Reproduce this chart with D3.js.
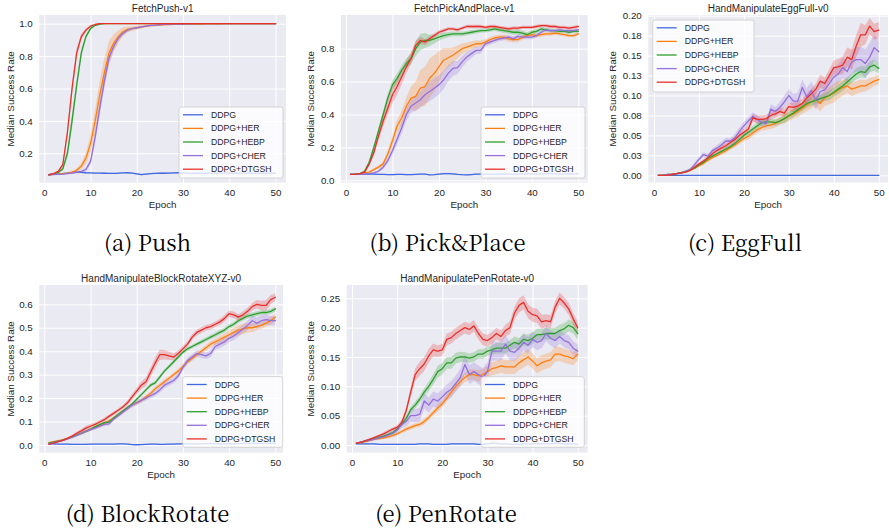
<!DOCTYPE html>
<html><head><meta charset="utf-8">
<script src="https://cdn.jsdelivr.net/npm/d3@7"></script>
<style>
body{margin:0;background:#fff}
svg{display:block}
text.sans{font-family:"Liberation Sans",Arial,sans-serif;fill:#262626}
text.cap{font-family:"Noto Serif CJK SC","Liberation Serif",serif;fill:#000}
</style>
</head><body>
<svg id="c" width="889" height="530"></svg>
<script>
// ---------------- DATA ----------------
const epochs = d3.range(1, 51);
const seriesNames = ["DDPG", "DDPG+HER", "DDPG+HEBP", "DDPG+CHER", "DDPG+DTGSH"];
const xTicks = [0, 10, 20, 30, 40, 50];

// (a) FetchPush-v1
const push_DDPG = [0.068,0.070,0.072,0.075,0.078,0.082,0.084,0.082,0.080,0.079,
0.078,0.078,0.077,0.076,0.076,0.077,0.079,0.080,0.077,0.073,
0.069,0.072,0.075,0.076,0.077,0.077,0.078,0.079,0.080,0.079,
0.077,0.076,0.077,0.078,0.077,0.076,0.077,0.078,0.078,0.077,
0.076,0.077,0.078,0.078,0.077,0.076,0.077,0.078,0.077,0.078];
const push_HER = [0.068,0.070,0.072,0.075,0.078,0.082,0.095,0.120,0.170,0.260,
0.400,0.560,0.700,0.820,0.880,0.920,0.950,0.965,0.970,0.975,
0.980,0.985,0.988,0.990,0.992,0.994,0.995,0.996,0.996,0.997,
0.997,0.998,0.998,0.998,0.999,0.999,0.999,0.999,1.000,1.000,
1.000,1.000,1.000,1.000,1.000,1.000,1.000,1.000,1.000,1.000];
const push_HEBP = [0.068,0.072,0.082,0.105,0.200,0.400,0.620,0.820,0.920,0.970,
0.990,0.998,1.000,1.000,1.000,1.000,1.000,1.000,1.000,1.000,
1.000,1.000,1.000,1.000,1.000,1.000,1.000,1.000,1.000,1.000,
1.000,1.000,1.000,1.000,1.000,1.000,1.000,1.000,1.000,1.000,
1.000,1.000,1.000,1.000,1.000,1.000,1.000,1.000,1.000,1.000];
const push_CHER = [0.068,0.069,0.070,0.072,0.075,0.078,0.082,0.088,0.100,0.150,
0.300,0.480,0.650,0.790,0.860,0.910,0.940,0.960,0.970,0.975,
0.980,0.985,0.990,0.990,0.995,0.996,0.997,0.998,0.998,0.998,
0.999,0.999,1.000,1.000,1.000,1.000,1.000,1.000,1.000,1.000,
1.000,1.000,1.000,1.000,1.000,1.000,1.000,1.000,1.000,1.000];
const push_DTGSH = [0.068,0.075,0.088,0.130,0.330,0.600,0.820,0.920,0.960,0.985,
0.995,1.000,1.000,1.000,1.000,1.000,1.000,1.000,1.000,1.000,
1.000,1.000,1.000,1.000,1.000,1.000,1.000,1.000,1.000,1.000,
1.000,1.000,1.000,1.000,1.000,1.000,1.000,1.000,1.000,1.000,
1.000,1.000,1.000,1.000,1.000,1.000,1.000,1.000,1.000,1.000];
const push_DDPG_sd = [0.003,0.003,0.004,0.004,0.004,0.005,0.005,0.005,0.004,0.004,
0.004,0.004,0.004,0.004,0.004,0.004,0.004,0.004,0.004,0.005,
0.005,0.004,0.004,0.004,0.004,0.004,0.004,0.004,0.004,0.004,
0.004,0.004,0.004,0.004,0.004,0.004,0.004,0.004,0.004,0.004,
0.004,0.004,0.004,0.004,0.004,0.004,0.004,0.004,0.004,0.004];
const push_HER_sd = [0.003,0.003,0.004,0.005,0.006,0.008,0.012,0.020,0.035,0.055,
0.075,0.090,0.090,0.075,0.055,0.040,0.028,0.020,0.015,0.012,
0.010,0.008,0.007,0.006,0.005,0.005,0.004,0.004,0.004,0.004,
0.003,0.003,0.003,0.003,0.003,0.003,0.003,0.003,0.003,0.003,
0.003,0.003,0.003,0.003,0.003,0.003,0.003,0.003,0.003,0.003];
const push_HEBP_sd = [0.003,0.004,0.006,0.012,0.030,0.045,0.040,0.028,0.016,0.010,
0.006,0.004,0.003,0.002,0.002,0.002,0.002,0.002,0.002,0.002,
0.002,0.002,0.002,0.002,0.002,0.002,0.002,0.002,0.002,0.002,
0.002,0.002,0.002,0.002,0.002,0.002,0.002,0.002,0.002,0.002,
0.002,0.002,0.002,0.002,0.002,0.002,0.002,0.002,0.002,0.002];
const push_CHER_sd = [0.003,0.003,0.004,0.004,0.005,0.006,0.007,0.008,0.012,0.020,
0.035,0.045,0.045,0.035,0.025,0.018,0.013,0.010,0.008,0.006,
0.005,0.005,0.004,0.004,0.004,0.003,0.003,0.003,0.003,0.003,
0.003,0.003,0.003,0.003,0.003,0.003,0.003,0.003,0.003,0.003,
0.003,0.003,0.003,0.003,0.003,0.003,0.003,0.003,0.003,0.003];
const push_DTGSH_sd = [0.003,0.004,0.006,0.012,0.030,0.035,0.030,0.020,0.012,0.008,
0.005,0.003,0.002,0.002,0.002,0.002,0.002,0.002,0.002,0.002,
0.002,0.002,0.002,0.002,0.002,0.002,0.002,0.002,0.002,0.002,
0.002,0.002,0.002,0.002,0.002,0.002,0.002,0.002,0.002,0.002,
0.002,0.002,0.002,0.002,0.002,0.002,0.002,0.002,0.002,0.002];

// (b) FetchPickAndPlace-v1
const pp_DDPG = [0.036,0.036,0.037,0.037,0.038,0.037,0.036,0.036,0.035,0.035,
0.036,0.036,0.035,0.034,0.036,0.038,0.037,0.033,0.035,0.038,
0.040,0.041,0.039,0.036,0.034,0.033,0.035,0.037,0.038,0.037,
0.036,0.037,0.038,0.039,0.038,0.037,0.038,0.039,0.040,0.039,
0.038,0.039,0.040,0.040,0.039,0.038,0.039,0.040,0.039,0.040];
const pp_HER = [0.036,0.037,0.040,0.045,0.050,0.065,0.080,0.100,0.160,0.240,
0.330,0.380,0.450,0.500,0.510,0.560,0.570,0.620,0.650,0.690,
0.730,0.745,0.760,0.780,0.800,0.810,0.820,0.830,0.830,0.840,
0.855,0.865,0.870,0.870,0.860,0.855,0.855,0.870,0.880,0.885,
0.880,0.885,0.890,0.890,0.895,0.890,0.885,0.880,0.880,0.890];
const pp_HEBP = [0.036,0.037,0.040,0.055,0.110,0.200,0.300,0.400,0.500,0.580,
0.620,0.670,0.710,0.740,0.800,0.840,0.850,0.850,0.860,0.870,
0.880,0.885,0.890,0.890,0.890,0.895,0.900,0.905,0.910,0.910,
0.915,0.920,0.915,0.910,0.905,0.900,0.900,0.895,0.885,0.900,
0.905,0.920,0.915,0.910,0.910,0.905,0.905,0.900,0.905,0.905];
const pp_CHER = [0.036,0.036,0.037,0.038,0.040,0.045,0.055,0.080,0.120,0.180,
0.250,0.320,0.400,0.450,0.470,0.490,0.520,0.540,0.560,0.580,
0.610,0.650,0.680,0.685,0.720,0.750,0.770,0.790,0.790,0.830,
0.840,0.850,0.860,0.865,0.870,0.860,0.875,0.870,0.870,0.870,
0.880,0.900,0.915,0.910,0.910,0.915,0.910,0.910,0.910,0.915];
const pp_DTGSH = [0.036,0.036,0.040,0.050,0.100,0.170,0.270,0.360,0.440,0.520,
0.570,0.630,0.690,0.740,0.820,0.850,0.840,0.860,0.880,0.900,
0.910,0.920,0.920,0.915,0.925,0.935,0.935,0.935,0.935,0.930,
0.935,0.935,0.930,0.925,0.920,0.925,0.925,0.930,0.930,0.930,
0.935,0.940,0.940,0.935,0.935,0.930,0.930,0.925,0.930,0.935];
const pp_DDPG_sd = [0.003,0.003,0.003,0.004,0.004,0.004,0.004,0.004,0.004,0.004,
0.004,0.004,0.004,0.004,0.004,0.004,0.004,0.004,0.004,0.004,
0.005,0.005,0.005,0.004,0.004,0.004,0.004,0.004,0.004,0.004,
0.004,0.004,0.004,0.004,0.004,0.004,0.004,0.004,0.004,0.004,
0.004,0.004,0.004,0.004,0.004,0.004,0.004,0.004,0.004,0.004];
const pp_HER_sd = [0.003,0.003,0.004,0.005,0.006,0.008,0.010,0.015,0.022,0.030,
0.038,0.045,0.055,0.070,0.090,0.110,0.120,0.120,0.110,0.095,
0.075,0.060,0.048,0.040,0.032,0.028,0.025,0.022,0.020,0.018,
0.016,0.015,0.015,0.016,0.018,0.018,0.016,0.014,0.013,0.012,
0.012,0.012,0.011,0.011,0.010,0.010,0.010,0.010,0.010,0.010];
const pp_HEBP_sd = [0.003,0.003,0.004,0.008,0.015,0.020,0.022,0.024,0.026,0.028,
0.030,0.030,0.030,0.035,0.045,0.050,0.045,0.035,0.028,0.022,
0.018,0.016,0.015,0.014,0.014,0.013,0.013,0.012,0.012,0.012,
0.012,0.012,0.013,0.014,0.015,0.015,0.015,0.015,0.015,0.014,
0.013,0.012,0.012,0.011,0.011,0.010,0.010,0.010,0.010,0.010];
const pp_CHER_sd = [0.003,0.003,0.003,0.004,0.005,0.006,0.008,0.012,0.018,0.024,
0.030,0.035,0.038,0.040,0.045,0.050,0.055,0.060,0.060,0.058,
0.055,0.050,0.045,0.040,0.035,0.030,0.026,0.022,0.020,0.018,
0.016,0.015,0.014,0.014,0.014,0.014,0.013,0.013,0.012,0.012,
0.012,0.011,0.011,0.010,0.010,0.010,0.010,0.010,0.010,0.010];
const pp_DTGSH_sd = [0.003,0.003,0.004,0.008,0.015,0.022,0.028,0.035,0.042,0.048,
0.050,0.045,0.038,0.032,0.028,0.022,0.018,0.015,0.013,0.012,
0.011,0.010,0.010,0.010,0.010,0.010,0.010,0.010,0.010,0.010,
0.010,0.010,0.010,0.012,0.012,0.012,0.011,0.010,0.010,0.010,
0.010,0.010,0.010,0.010,0.010,0.010,0.010,0.010,0.010,0.010];

// (c) HandManipulateEggFull-v0
const egg_DDPG = [0,0,0,0,0,0,0,0,0,0,
0,0,0,0,0,0,0,0,0,0,
0,0,0,0,0,0,0,0,0,0,
0,0,0,0,0,0,0,0,0,0,
0,0,0,0,0,0,0,0,0,0];
const egg_HER = [0.000,0.000,0.001,0.001,0.002,0.003,0.004,0.006,0.009,0.012,
0.015,0.019,0.022,0.025,0.028,0.031,0.035,0.038,0.042,0.046,
0.049,0.053,0.057,0.060,0.062,0.063,0.065,0.068,0.071,0.074,
0.077,0.080,0.084,0.088,0.092,0.095,0.090,0.097,0.100,0.103,
0.107,0.110,0.112,0.108,0.110,0.112,0.112,0.115,0.118,0.120];
const egg_HEBP = [0.000,0.000,0.001,0.001,0.002,0.003,0.005,0.007,0.009,0.013,
0.016,0.021,0.024,0.027,0.030,0.033,0.036,0.040,0.045,0.050,
0.054,0.058,0.062,0.066,0.067,0.067,0.066,0.068,0.071,0.075,
0.078,0.082,0.086,0.090,0.092,0.094,0.096,0.098,0.100,0.104,
0.108,0.112,0.117,0.122,0.127,0.130,0.129,0.136,0.138,0.134];
const egg_CHER = [0.000,0.000,0.001,0.001,0.002,0.003,0.005,0.007,0.013,0.020,
0.026,0.024,0.031,0.034,0.038,0.043,0.043,0.047,0.055,0.062,
0.068,0.074,0.070,0.066,0.065,0.083,0.080,0.085,0.092,0.100,
0.093,0.093,0.110,0.098,0.106,0.094,0.105,0.107,0.115,0.123,
0.127,0.135,0.130,0.142,0.145,0.145,0.140,0.148,0.160,0.155];
const egg_DTGSH = [0.000,0.000,0.000,0.001,0.002,0.003,0.004,0.006,0.010,0.014,
0.018,0.022,0.027,0.031,0.034,0.037,0.041,0.045,0.050,0.054,
0.058,0.072,0.070,0.070,0.071,0.075,0.077,0.080,0.078,0.086,
0.085,0.087,0.090,0.097,0.102,0.108,0.118,0.115,0.125,0.135,
0.136,0.138,0.148,0.145,0.162,0.176,0.176,0.187,0.180,0.182];
const egg_DDPG_sd = [0,0,0,0,0,0,0,0,0,0,
0,0,0,0,0,0,0,0,0,0,
0,0,0,0,0,0,0,0,0,0,
0,0,0,0,0,0,0,0,0,0,
0,0,0,0,0,0,0,0,0,0];
const egg_HER_sd = [0.000,0.000,0.000,0.001,0.001,0.001,0.001,0.001,0.002,0.002,
0.002,0.002,0.002,0.002,0.003,0.003,0.003,0.003,0.003,0.003,
0.004,0.004,0.004,0.004,0.005,0.005,0.005,0.005,0.006,0.006,
0.006,0.007,0.007,0.008,0.008,0.009,0.010,0.010,0.011,0.012,
0.011,0.010,0.009,0.009,0.008,0.008,0.007,0.007,0.006,0.006];
const egg_HEBP_sd = [0.000,0.000,0.000,0.001,0.001,0.001,0.001,0.001,0.001,0.002,
0.002,0.002,0.002,0.002,0.002,0.003,0.003,0.003,0.003,0.003,
0.003,0.004,0.004,0.004,0.004,0.004,0.004,0.004,0.005,0.005,
0.005,0.005,0.005,0.005,0.005,0.005,0.005,0.005,0.006,0.006,
0.006,0.006,0.006,0.006,0.007,0.007,0.007,0.007,0.007,0.006];
const egg_CHER_sd = [0.000,0.000,0.000,0.001,0.001,0.001,0.001,0.002,0.003,0.003,
0.003,0.003,0.003,0.004,0.004,0.004,0.004,0.005,0.005,0.005,
0.005,0.005,0.005,0.005,0.005,0.006,0.006,0.007,0.008,0.008,
0.009,0.010,0.010,0.011,0.012,0.012,0.012,0.012,0.012,0.012,
0.012,0.013,0.013,0.014,0.015,0.016,0.018,0.018,0.016,0.015];
const egg_DTGSH_sd = [0.000,0.000,0.000,0.001,0.001,0.001,0.001,0.001,0.002,0.002,
0.002,0.002,0.003,0.003,0.003,0.003,0.003,0.004,0.004,0.004,
0.004,0.005,0.005,0.005,0.005,0.005,0.005,0.005,0.005,0.005,
0.006,0.006,0.006,0.006,0.006,0.007,0.008,0.008,0.008,0.009,
0.010,0.011,0.012,0.013,0.014,0.015,0.012,0.010,0.010,0.010];

// (d) HandManipulateBlockRotateXYZ-v0
const br_DDPG = [0.005,0.005,0.004,0.004,0.004,0.003,0.003,0.003,0.003,0.004,
0.004,0.004,0.004,0.004,0.004,0.005,0.005,0.004,0.002,0.001,
0.002,0.003,0.004,0.004,0.003,0.003,0.004,0.004,0.005,0.005,
0.005,0.005,0.005,0.005,0.006,0.006,0.006,0.005,0.005,0.006,
0.006,0.006,0.007,0.007,0.007,0.007,0.007,0.007,0.008,0.008];
const br_HER = [0.010,0.014,0.018,0.022,0.028,0.035,0.043,0.050,0.058,0.066,
0.075,0.084,0.093,0.103,0.115,0.128,0.142,0.157,0.170,0.180,
0.190,0.205,0.220,0.240,0.255,0.270,0.285,0.300,0.315,0.335,
0.355,0.370,0.385,0.400,0.415,0.430,0.440,0.450,0.460,0.470,
0.480,0.490,0.495,0.500,0.500,0.505,0.510,0.520,0.530,0.545];
const br_HEBP = [0.008,0.012,0.016,0.021,0.027,0.034,0.042,0.050,0.058,0.067,
0.077,0.087,0.095,0.098,0.115,0.130,0.145,0.160,0.175,0.195,
0.215,0.235,0.255,0.265,0.290,0.315,0.335,0.355,0.375,0.395,
0.410,0.420,0.430,0.440,0.450,0.460,0.470,0.480,0.490,0.505,
0.515,0.530,0.540,0.550,0.555,0.560,0.565,0.565,0.570,0.580];
const br_CHER = [0.005,0.010,0.015,0.020,0.026,0.033,0.041,0.050,0.058,0.066,
0.072,0.080,0.088,0.090,0.110,0.125,0.140,0.155,0.170,0.180,
0.190,0.200,0.210,0.220,0.235,0.255,0.265,0.275,0.295,0.330,
0.360,0.375,0.390,0.385,0.380,0.390,0.420,0.430,0.440,0.455,
0.465,0.480,0.495,0.510,0.530,0.520,0.530,0.535,0.530,0.530];
const br_DTGSH = [0.003,0.008,0.014,0.020,0.028,0.038,0.050,0.060,0.072,0.080,
0.088,0.098,0.108,0.122,0.135,0.148,0.162,0.180,0.205,0.230,
0.255,0.270,0.310,0.350,0.385,0.385,0.380,0.375,0.390,0.410,
0.430,0.460,0.480,0.490,0.500,0.505,0.515,0.525,0.540,0.560,
0.555,0.545,0.555,0.570,0.590,0.600,0.595,0.595,0.620,0.630];
const br_DDPG_sd = [0.002,0.002,0.002,0.002,0.002,0.002,0.002,0.002,0.002,0.002,
0.002,0.002,0.002,0.002,0.002,0.002,0.002,0.002,0.002,0.002,
0.002,0.002,0.002,0.002,0.002,0.002,0.002,0.002,0.002,0.002,
0.002,0.002,0.002,0.002,0.002,0.002,0.002,0.002,0.002,0.002,
0.002,0.002,0.002,0.002,0.002,0.002,0.002,0.002,0.002,0.002];
const br_HER_sd = [0.004,0.004,0.005,0.005,0.005,0.005,0.005,0.006,0.006,0.006,
0.006,0.007,0.007,0.007,0.007,0.008,0.008,0.008,0.008,0.008,
0.009,0.009,0.009,0.010,0.010,0.010,0.010,0.010,0.011,0.011,
0.011,0.012,0.012,0.012,0.013,0.013,0.014,0.015,0.016,0.018,
0.020,0.022,0.022,0.020,0.018,0.016,0.015,0.015,0.015,0.015];
const br_HEBP_sd = [0.003,0.003,0.003,0.004,0.004,0.004,0.005,0.005,0.005,0.005,
0.005,0.005,0.005,0.006,0.006,0.006,0.006,0.006,0.006,0.007,
0.007,0.007,0.008,0.008,0.008,0.008,0.008,0.008,0.008,0.008,
0.008,0.008,0.008,0.009,0.009,0.009,0.010,0.010,0.010,0.010,
0.010,0.010,0.010,0.010,0.010,0.010,0.010,0.010,0.010,0.010];
const br_CHER_sd = [0.004,0.004,0.004,0.005,0.005,0.005,0.005,0.006,0.006,0.006,
0.007,0.007,0.008,0.008,0.008,0.008,0.008,0.009,0.009,0.010,
0.010,0.010,0.011,0.011,0.012,0.012,0.012,0.012,0.012,0.013,
0.013,0.013,0.014,0.014,0.014,0.015,0.015,0.016,0.016,0.017,
0.018,0.018,0.018,0.020,0.022,0.024,0.024,0.022,0.020,0.018];
const br_DTGSH_sd = [0.003,0.003,0.004,0.004,0.005,0.005,0.006,0.007,0.010,0.010,
0.009,0.008,0.008,0.008,0.008,0.008,0.009,0.010,0.012,0.014,
0.016,0.018,0.020,0.022,0.022,0.020,0.018,0.015,0.013,0.012,
0.012,0.012,0.012,0.012,0.012,0.012,0.012,0.013,0.014,0.014,
0.014,0.014,0.014,0.015,0.016,0.018,0.020,0.022,0.020,0.015];

// (e) HandManipulatePenRotate-v0
const pen_DDPG = [0.002,0.002,0.002,0.002,0.002,0.001,0.001,0.001,0.001,0.001,
0.001,0.001,0.001,0.001,0.002,0.002,0.002,0.001,0.001,0.001,
0.001,0.002,0.002,0.002,0.002,0.002,0.002,0.001,0.001,0.002,
0.003,0.003,0.002,0.002,0.001,0.001,0.001,0.002,0.002,0.002,
0.002,0.002,0.002,0.002,0.003,0.003,0.002,0.002,0.002,0.001];
const pen_HER = [0.003,0.004,0.006,0.008,0.010,0.011,0.012,0.014,0.016,0.019,
0.023,0.027,0.030,0.033,0.035,0.040,0.047,0.055,0.063,0.070,
0.080,0.090,0.100,0.108,0.115,0.120,0.120,0.118,0.120,0.125,
0.130,0.132,0.135,0.133,0.133,0.133,0.140,0.145,0.150,0.143,
0.135,0.140,0.143,0.145,0.155,0.155,0.152,0.150,0.147,0.155];
const pen_HEBP = [0.003,0.005,0.007,0.009,0.011,0.013,0.015,0.018,0.021,0.027,
0.035,0.045,0.060,0.068,0.078,0.090,0.100,0.112,0.125,0.130,
0.140,0.140,0.148,0.150,0.150,0.148,0.150,0.155,0.155,0.160,
0.162,0.165,0.165,0.165,0.170,0.175,0.172,0.180,0.178,0.182,
0.188,0.188,0.190,0.190,0.190,0.195,0.198,0.204,0.200,0.190];
const pen_CHER = [0.003,0.005,0.007,0.008,0.010,0.012,0.014,0.017,0.020,0.025,
0.035,0.040,0.050,0.050,0.052,0.075,0.068,0.078,0.075,0.082,
0.090,0.095,0.105,0.115,0.137,0.120,0.125,0.120,0.115,0.125,
0.160,0.160,0.160,0.172,0.160,0.158,0.165,0.175,0.170,0.180,
0.175,0.178,0.190,0.182,0.178,0.185,0.178,0.175,0.165,0.160];
const pen_DTGSH = [0.003,0.005,0.007,0.010,0.013,0.016,0.019,0.023,0.027,0.030,
0.038,0.058,0.090,0.120,0.130,0.138,0.152,0.162,0.160,0.162,
0.180,0.183,0.190,0.195,0.200,0.197,0.203,0.190,0.180,0.178,
0.183,0.190,0.185,0.195,0.200,0.225,0.238,0.243,0.228,0.222,
0.220,0.210,0.212,0.210,0.235,0.250,0.242,0.232,0.215,0.200];
const pen_DDPG_sd = [0.001,0.001,0.001,0.001,0.001,0.001,0.001,0.001,0.001,0.001,
0.001,0.001,0.001,0.001,0.001,0.001,0.001,0.001,0.001,0.001,
0.001,0.001,0.001,0.001,0.001,0.001,0.001,0.001,0.001,0.001,
0.001,0.001,0.001,0.001,0.001,0.001,0.001,0.001,0.001,0.001,
0.001,0.001,0.001,0.001,0.001,0.001,0.001,0.001,0.001,0.001];
const pen_HER_sd = [0.001,0.001,0.002,0.002,0.002,0.002,0.002,0.003,0.003,0.003,
0.003,0.004,0.004,0.004,0.004,0.005,0.005,0.005,0.006,0.006,
0.006,0.007,0.007,0.008,0.008,0.009,0.009,0.010,0.010,0.010,
0.011,0.011,0.012,0.012,0.012,0.012,0.012,0.013,0.013,0.013,
0.013,0.013,0.013,0.013,0.013,0.012,0.012,0.012,0.011,0.011];
const pen_HEBP_sd = [0.001,0.001,0.002,0.002,0.002,0.002,0.003,0.003,0.003,0.004,
0.004,0.005,0.005,0.006,0.006,0.007,0.008,0.009,0.010,0.010,
0.010,0.010,0.009,0.009,0.008,0.008,0.008,0.008,0.008,0.008,
0.008,0.009,0.009,0.009,0.009,0.010,0.010,0.010,0.010,0.010,
0.010,0.010,0.010,0.010,0.010,0.010,0.010,0.010,0.010,0.010];
const pen_CHER_sd = [0.001,0.001,0.002,0.002,0.002,0.003,0.003,0.003,0.004,0.005,
0.006,0.008,0.010,0.011,0.012,0.013,0.013,0.013,0.013,0.013,
0.013,0.014,0.014,0.015,0.016,0.016,0.016,0.016,0.016,0.016,
0.016,0.016,0.016,0.016,0.015,0.015,0.015,0.014,0.014,0.013,
0.013,0.013,0.013,0.013,0.013,0.012,0.012,0.012,0.012,0.012];
const pen_DTGSH_sd = [0.001,0.001,0.002,0.002,0.002,0.002,0.003,0.003,0.003,0.004,
0.005,0.007,0.009,0.011,0.012,0.012,0.012,0.011,0.010,0.010,
0.010,0.010,0.010,0.010,0.010,0.010,0.010,0.010,0.010,0.010,
0.010,0.010,0.010,0.010,0.011,0.011,0.012,0.012,0.012,0.012,
0.012,0.012,0.011,0.011,0.011,0.010,0.010,0.010,0.010,0.010];

// y tick values / labels
const push_yTicks = [0.2, 0.4, 0.6, 0.8, 1.0];
const push_yLabels = ["0.2", "0.4", "0.6", "0.8", "1.0"];
const pp_yTicks = [0.0, 0.2, 0.4, 0.6, 0.8];
const pp_yLabels = ["0.0", "0.2", "0.4", "0.6", "0.8"];
const egg_yTicks = [0.0, 0.025, 0.05, 0.075, 0.1, 0.125, 0.15, 0.175, 0.2];
const egg_yLabels = ["0.00", "0.03", "0.05", "0.08", "0.10", "0.13", "0.15", "0.18", "0.20"];
const br_yTicks = [0.0, 0.1, 0.2, 0.3, 0.4, 0.5, 0.6];
const br_yLabels = ["0.0", "0.1", "0.2", "0.3", "0.4", "0.5", "0.6"];
const pen_yTicks = [0.0, 0.05, 0.10, 0.15, 0.20, 0.25];
const pen_yLabels = ["0.00", "0.05", "0.10", "0.15", "0.20", "0.25"];

// ---------------- STYLE / LAYOUT ----------------
const colors = ["#4169e1", "#ff7f0e", "#2ca02c", "#9370db", "#e8302a"];

const panels = [
  { title: "FetchPush-v1", caption: "(a) Push", capX: 147.5, capY: 251,
    values: [push_DDPG, push_HER, push_HEBP, push_CHER, push_DTGSH],
    spreads: [push_DDPG_sd, push_HER_sd, push_HEBP_sd, push_CHER_sd, push_DTGSH_sd],
    yTicks: push_yTicks, yLabels: push_yLabels,
    rect: { l: 39.3, t: 15, r: 286, b: 182.7 }, xPx: [44.3, 275.5], yRef: [0.2, 153.3, 1.0, 23.7],
    yLabX: 10.7, legend: { x: 179, y: 107, w: 104, h: 71 } },
  { title: "FetchPickAndPlace-v1", caption: "(b) Pick&Place", capX: 447.5, capY: 251,
    values: [pp_DDPG, pp_HER, pp_HEBP, pp_CHER, pp_DTGSH],
    spreads: [pp_DDPG_sd, pp_HER_sd, pp_HEBP_sd, pp_CHER_sd, pp_DTGSH_sd],
    yTicks: pp_yTicks, yLabels: pp_yLabels,
    rect: { l: 341, t: 15, r: 587.7, b: 182.5 }, xPx: [346, 578.3], yRef: [0.0, 180.3, 0.8, 48.7],
    yLabX: 311, legend: { x: 481, y: 107, w: 104, h: 71 } },
  { title: "HandManipulateEggFull-v0", caption: "(c) EggFull", capX: 745, capY: 251,
    values: [egg_DDPG, egg_HER, egg_HEBP, egg_CHER, egg_DTGSH],
    spreads: [egg_DDPG_sd, egg_HER_sd, egg_HEBP_sd, egg_CHER_sd, egg_DTGSH_sd],
    yTicks: egg_yTicks, yLabels: egg_yLabels,
    rect: { l: 648.3, t: 15, r: 888, b: 182.5 }, xPx: [654, 878.7], yRef: [0.0, 175.3, 0.2, 15.7],
    yLabX: 612.7, legend: { x: 652.7, y: 20, w: 101.3, h: 72 } },
  { title: "HandManipulateBlockRotateXYZ-v0", caption: "(d) BlockRotate", capX: 147.5, capY: 522,
    values: [br_DDPG, br_HER, br_HEBP, br_CHER, br_DTGSH],
    spreads: [br_DDPG_sd, br_HER_sd, br_HEBP_sd, br_CHER_sd, br_DTGSH_sd],
    yTicks: br_yTicks, yLabels: br_yLabels,
    rect: { l: 39.3, t: 285, r: 283, b: 452.7 }, xPx: [44.3, 275.3], yRef: [0.0, 445, 0.6, 304.3],
    yLabX: 10.5, legend: { x: 182.7, y: 376.7, w: 100, h: 70.6 } },
  { title: "HandManipulatePenRotate-v0", caption: "(e) PenRotate", capX: 446, capY: 522,
    values: [pen_DDPG, pen_HER, pen_HEBP, pen_CHER, pen_DTGSH],
    spreads: [pen_DDPG_sd, pen_HER_sd, pen_HEBP_sd, pen_CHER_sd, pen_DTGSH_sd],
    yTicks: pen_yTicks, yLabels: pen_yLabels,
    rect: { l: 346.7, t: 285, r: 587.7, b: 452.5 }, xPx: [352, 577.7], yRef: [0.0, 445, 0.25, 298.3],
    yLabX: 311, legend: { x: 481, y: 376.7, w: 103.3, h: 70.6 } }
];

const svg = d3.select("#c");
svg.append("rect").attr("width", 889).attr("height", 530).attr("fill", "#ffffff");

panels.forEach((p, pi) => {
  const R = p.rect;
  const x = d3.scaleLinear().domain([0, 50]).range(p.xPx);
  const y = d3.scaleLinear().domain([p.yRef[0], p.yRef[2]]).range([p.yRef[1], p.yRef[3]]);
  const g = svg.append("g");
  const clipId = "clip" + pi;
  g.append("clipPath").attr("id", clipId).append("rect")
    .attr("x", R.l).attr("y", R.t).attr("width", R.r - R.l).attr("height", R.b - R.t);

  g.append("rect").attr("x", R.l).attr("y", R.t).attr("width", R.r - R.l).attr("height", R.b - R.t)
    .attr("fill", "#eaeaf2");

  const gx = g.append("g").attr("transform", `translate(0,${R.b})`)
    .call(d3.axisBottom(x).tickValues(xTicks).tickSize(-(R.b - R.t)).tickPadding(6.5).tickFormat(d3.format("d")));
  gx.select(".domain").remove();
  gx.selectAll("line").attr("stroke", "#ffffff").attr("stroke-width", 1);
  gx.selectAll("text").attr("class", "sans").attr("font-size", "9.8px");
  gx.attr("font-family", null);

  const gy = g.append("g").attr("transform", `translate(${R.l},0)`)
    .call(d3.axisLeft(y).tickValues(p.yTicks).tickSize(-(R.r - R.l)).tickPadding(6.5)
      .tickFormat((d, i) => p.yLabels[i]));
  gy.select(".domain").remove();
  gy.selectAll("line").attr("stroke", "#ffffff").attr("stroke-width", 1);
  gy.selectAll("text").attr("class", "sans").attr("font-size", "9.8px");
  gy.attr("font-family", null);

  const plot = g.append("g").attr("clip-path", `url(#${clipId})`);
  p.values.forEach((vals, si) => {
    const sd = p.spreads[si];
    const area = d3.area()
      .x((d, i) => x(epochs[i]))
      .y0((d, i) => y(vals[i] - sd[i]))
      .y1((d, i) => y(vals[i] + sd[i]));
    plot.append("path").datum(vals).attr("d", area)
      .attr("fill", colors[si]).attr("fill-opacity", 0.25).attr("stroke", "none");
  });
  p.values.forEach((vals, si) => {
    const line = d3.line().x((d, i) => x(epochs[i])).y(d => y(d));
    plot.append("path").datum(vals).attr("d", line)
      .attr("fill", "none").attr("stroke", colors[si]).attr("stroke-width", 1.3)
      .attr("stroke-linejoin", "round").attr("stroke-linecap", "square");
  });

  g.append("text").attr("class", "sans").attr("x", (R.l + R.r) / 2).attr("y", R.t - 7).attr("dy", "0.35em")
    .attr("text-anchor", "middle").attr("font-size", "10px").text(p.title);
  g.append("text").attr("class", "sans").attr("x", (R.l + R.r) / 2).attr("y", R.b + 22.3).attr("dy", "0.35em")
    .attr("text-anchor", "middle").attr("font-size", "9.8px").text("Epoch");
  g.append("text").attr("class", "sans").attr("transform", `translate(${p.yLabX},${(R.t + R.b) / 2}) rotate(-90)`)
    .attr("dy", "0.35em").attr("text-anchor", "middle").attr("font-size", "9.8px").text("Median Success Rate");

  const L = p.legend;
  const lg = g.append("g");
  lg.append("rect").attr("x", L.x).attr("y", L.y).attr("width", L.w).attr("height", L.h)
    .attr("rx", 2.5).attr("fill", "#ffffff").attr("fill-opacity", 0.8)
    .attr("stroke", "#cccccc").attr("stroke-width", 0.8);
  seriesNames.forEach((nm, si) => {
    const yy = L.y + 7.8 + si * 13.6;
    lg.append("line").attr("x1", L.x + 4).attr("x2", L.x + 24).attr("y1", yy).attr("y2", yy)
      .attr("stroke", colors[si]).attr("stroke-width", 1.3);
    lg.append("text").attr("class", "sans").attr("x", L.x + 32).attr("y", yy).attr("dy", "0.35em")
      .attr("font-size", "8.7px").text(nm);
  });

  svg.append("text").attr("class", "cap").attr("x", p.capX).attr("y", p.capY).attr("text-anchor", "middle")
    .attr("font-size", "22px").text(p.caption);
});
</script>
</body></html>
